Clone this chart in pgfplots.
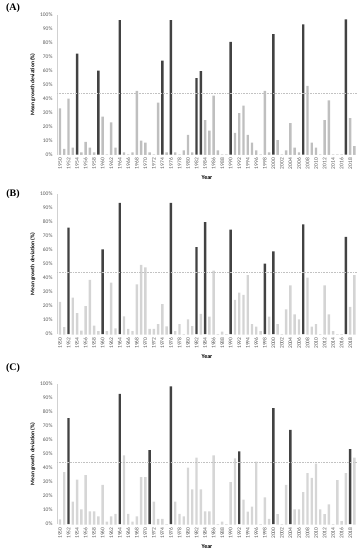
\documentclass[border=0pt]{standalone}
\usepackage{fontspec}
\setmainfont{Carlito}
\newfontfamily\panelfont{Liberation Serif}
\usepackage{pgfplots}
\usepackage{pgfplotstable}
\pgfplotsset{compat=1.18}
\definecolor{lgrayA}{HTML}{BFBFBF}
\definecolor{lgrayB}{HTML}{D4D4D4}
\definecolor{lgrayC}{HTML}{D6D6D6}
\definecolor{dgray}{HTML}{424242}
\definecolor{tickc}{HTML}{595959}

\pgfplotstableread{
year g d
1950 33 0
1951 4 0
1952 40 0
1953 5 0
1954 0 72
1955 1.5 0
1956 9 0
1957 5 0
1958 1.5 0
1959 0 60
1960 27 0
1961 0 0
1962 23 0
1963 5 0
1964 0 96
1965 1.5 0
1966 0 0
1967 1.5 0
1968 45.5 0
1969 10 0
1970 8.5 0
1971 1.5 0
1972 0 0
1973 37 0
1974 0 67
1975 1.5 0
1976 0 96
1977 1.5 0
1978 0 0
1979 3 0
1980 14 0
1981 1.5 0
1982 0 54.5
1983 0 59.5
1984 24.5 0
1985 17 0
1986 42 0
1987 3 0
1988 0 0
1989 0 0
1990 0 80.5
1991 15.5 0
1992 29.5 0
1993 35 0
1994 14 0
1995 8.5 0
1996 3 0
1997 0 0
1998 45.5 0
1999 1.5 0
2000 0 86
2001 10.3 0
2002 0 0
2003 3 0
2004 22.5 0
2005 5 0
2006 1.5 0
2007 0 93
2008 49 0
2009 8.4 0
2010 5 0
2011 0 0
2012 24.5 0
2013 38.6 0
2014 0 0
2015 0 0
2016 0 0
2017 0 96.5
2018 26 0
2019 6 0
}\tabA

\pgfplotstableread{
year g d
1950 23 0
1951 5 0
1952 0 76
1953 26 0
1954 15 0
1955 2.4 0
1956 20 0
1957 38.6 0
1958 6 0
1959 2 0
1960 0 60.5
1961 2 0
1962 36.7 0
1963 4 0
1964 0 93.6
1965 12.6 0
1966 3.6 0
1967 2 0
1968 35.5 0
1969 49.3 0
1970 47.6 0
1971 3.6 0
1972 3.6 0
1973 7 0
1974 21.4 0
1975 5.5 0
1976 0 93.6
1977 2 0
1978 7 0
1979 0 0
1980 10.5 0
1981 5.7 0
1982 0 62
1983 14.3 0
1984 0 80
1985 12.4 0
1986 45.2 0
1987 0 0
1988 1.7 0
1989 0 0
1990 0 74.5
1991 24.3 0
1992 29.5 0
1993 27.9 0
1994 42 0
1995 7 0
1996 5.2 0
1997 2 0
1998 0 50.2
1999 12.4 0
2000 0 59
2001 7 0
2002 0 0
2003 17.6 0
2004 34.8 0
2005 14 0
2006 10.5 0
2007 0 78.3
2008 40.2 0
2009 5.2 0
2010 7 0
2011 0 0
2012 34.8 0
2013 14 0
2014 2 0
2015 0 0
2016 0 0
2017 0 69.3
2018 19.3 0
2019 42 0
}\tabB

\pgfplotstableread{
year g d
1950 3.3 0
1951 37 0
1952 0 75.7
1953 16 0
1954 31.7 0
1955 10.5 0
1956 35 0
1957 9 0
1958 9 0
1959 5.5 0
1960 28 0
1961 1.7 0
1962 5.5 0
1963 7.2 0
1964 0 93
1965 49 0
1966 7.2 0
1967 1.7 0
1968 5.5 0
1969 33.4 0
1970 33.4 0
1971 0 52.7
1972 16 0
1973 3.6 0
1974 3.6 0
1975 0 0
1976 0 98.3
1977 16 0
1978 7.2 0
1979 5.5 0
1980 40.3 0
1981 24.8 0
1982 47.5 0
1983 24.8 0
1984 9 0
1985 9 0
1986 49 0
1987 0 0
1988 1.7 0
1989 0 0
1990 30 0
1991 46.8 0
1992 0 51.8
1993 17.4 0
1994 8.8 0
1995 12.4 0
1996 44.6 0
1997 0 0
1998 19 0
1999 3.6 0
2000 0 82.8
2001 7 0
2002 0 0
2003 28 0
2004 0 67.3
2005 10.5 0
2006 10.5 0
2007 22.7 0
2008 36.3 0
2009 33 0
2010 43.2 0
2011 10.5 0
2012 7 0
2013 14 0
2014 0 0
2015 31.3 0
2016 2 0
2017 36.3 0
2018 0 53.5
2019 47.5 0
}\tabC

\pgfplotsset{
  panel/.style={
    scale only axis,
    width=300pt, height=140pt,
    anchor=south west,
    xmin=1949.3, xmax=2019.6,
    ymin=0, ymax=100,
    axis lines*=left,
    x axis line style={draw=none},
    y axis line style={draw=black!18, line width=0.6pt},
    major tick length=0pt,
    xtick={1950,1952,...,2018},
    ytick={0,10,...,100},
    /pgf/number format/assume math mode=true,
    /pgf/number format/1000 sep={},
    yticklabel={\pgfmathprintnumber{\tick}\%},
    ticklabel style={font=\fontsize{5.5}{6}\selectfont, text=tickc},
    xticklabel style={rotate=90, anchor=east},
    yticklabel style={xshift=-1pt},
    xlabel={Year},
    xlabel style={at={(axis description cs:0.5,0)}, anchor=center, yshift=-23pt, font=\fontsize{6}{7}\selectfont\bfseries},
    ylabel={Mean growth deviation (\%)},
    ylabel style={font=\fontsize{5.5}{6}\selectfont\bfseries, yshift=-2pt},
    ybar, bar width=2.4pt, bar shift=0pt,
  },
  dbar/.style={fill=dgray, draw=none},
  thr/.style={sharp plot, draw=black!24, line width=0.45pt, dash pattern=on 0.8pt off 0.8pt, forget plot},
}

\begin{document}
\begin{tikzpicture}
\path[use as bounding box] (0,0) rectangle (359pt,-550pt);

\node[font=\panelfont\bfseries\fontsize{10}{11}\selectfont] at (13pt,-8pt) {(A)};
\begin{axis}[panel, at={(57pt,-154.5pt)}]
\addplot[fill=lgrayA, draw=none] table[x=year,y=g] {\tabA};
\addplot[dbar] table[x=year,y=d] {\tabA};
\addplot[thr] coordinates {(1949.3,44) (2019.6,44)};
\end{axis}

\node[font=\panelfont\bfseries\fontsize{10}{11}\selectfont] at (13pt,-194pt) {(B)};
\begin{axis}[panel, at={(57pt,-334pt)}]
\addplot[fill=lgrayB, draw=none] table[x=year,y=g] {\tabB};
\addplot[dbar] table[x=year,y=d] {\tabB};
\addplot[thr] coordinates {(1949.3,44) (2019.6,44)};
\end{axis}

\node[font=\panelfont\bfseries\fontsize{10}{11}\selectfont] at (13pt,-368pt) {(C)};
\begin{axis}[panel, at={(57pt,-524pt)}]
\addplot[fill=lgrayC, draw=none] table[x=year,y=g] {\tabC};
\addplot[dbar] table[x=year,y=d] {\tabC};
\addplot[thr] coordinates {(1949.3,44) (2019.6,44)};
\end{axis}
\end{tikzpicture}
\end{document}
